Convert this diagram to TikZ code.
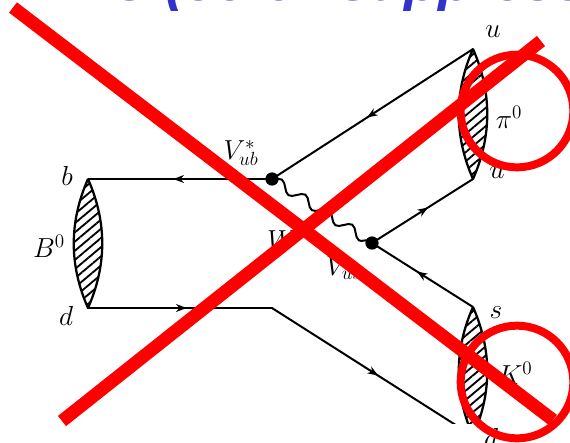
\documentclass[tikz,border=0pt]{standalone}
\usepackage{xcolor}
\usepackage{fontspec}
\setsansfont{Liberation Sans}
\usetikzlibrary{arrows.meta,decorations.markings,decorations.pathmorphing,patterns.meta}
\definecolor{slideBlue}{HTML}{3333CC}
\definecolor{crossRed}{HTML}{FF0000}

\begin{document}
\begin{tikzpicture}[
  x=0.0265cm, y=-0.0265cm,
  font=\huge,
  quark/.style={line width=1.5pt, line cap=round},
  fermion/.style={quark, postaction={decorate}, decoration={markings, mark=at position 0.5*\pgfdecoratedpathlength+5pt with {\arrow{Stealth[length=8pt,width=6pt]}}}},
  boson/.style={line width=1.5pt, decorate, decoration={snake, amplitude=3.6pt, segment length=21pt}},
  meson/.style={line width=1.7pt, line join=round, pattern={Lines[angle=40,distance=5.3pt,line width=1.4pt]}},
  vertex/.style={circle, fill=black, inner sep=0pt, minimum size=10pt},
  cross/.style={line width=9.8pt, crossRed},
  ring/.style={draw, circle, line width=6pt, crossRed, minimum size=85pt, inner sep=0pt},
  title/.style={font=\fontsize{42}{42}\selectfont\sffamily\bfseries\itshape, text=slideBlue, inner sep=0pt, anchor=base west}
]
\useasboundingbox (0,0) rectangle (570,442);
\clip (0,0) rectangle (570,442);

% Slide title, cut by the crop
\begin{scope}
  \clip (0,0) rectangle (570,10);
  \node[title] (heading) at (110,0) {C (color-suppressed)};
\end{scope}

% Quark ends
\coordinate (bL) at (88,179);
\coordinate (dL) at (88,308);
\coordinate (knee) at (272,308);
\coordinate (uT) at (473,49);
\coordinate (uB) at (473,179);
\coordinate (sT) at (473,307);
\coordinate (dB) at (473,436);

% Vertices
\node[vertex] (vUb) at (272,179) {};
\node[vertex] (vUs) at (372,243) {};

% Lines
\draw[fermion] (vUb.center) -- (bL);
\draw[fermion] (dL) -- (knee);
\draw[fermion] (uT) -- (vUb.center);
\draw[fermion] (vUs.center) -- (uB);
\draw[fermion] (sT) -- (vUs.center);
\draw[boson] (vUb.center) -- (vUs.center);

% Mesons
\draw[meson] (bL) .. controls +(-19,43) and +(-19,-43) .. (dL) .. controls +(19,-43) and +(19,43) .. (bL);
\draw[meson] (uT) .. controls +(-19,43) and +(-19,-43) .. (uB) .. controls +(19,-43) and +(19,43) .. (uT);
\begin{scope}
  \clip (0,0) rectangle (570,423);
  \draw[fermion] (knee) -- (dB);
  \draw[meson] (sT) .. controls +(-19,43) and +(-19,-43) .. (dB) .. controls +(19,-43) and +(19,43) .. (sT);
\end{scope}

% Labels
\node (lbB) at (67,176) {$b$};
\node (ldL) at (66,316) {$d$};
\node (lB) at (49,246) {$B^0$};
\node (lVub) at (241,153) {$V_{ub}^*$};
\node (lW) at (282,240) {$W$};
\node (lVus) at (344,268) {$V_{us}$};
\node (luT) at (493,32) {$u$};
\node (luB) at (497,173) {$u$};
\node (lpi) at (509,117) {$\pi^0$};
\node (ls) at (496,313) {$s$};
\node (lK) at (515,373) {$K^0$};
\node (ldB) at (491,438) {$d$};

% Red marks
\node[ring] (ringPi) at (517,111) {};
\node[ring] (ringK) at (517,382) {};
\coordinate (crossA) at (13,7.5);
\coordinate (crossB) at (553,420);
\coordinate (crossC) at (62,421);
\coordinate (crossD) at (541,41);
\draw[cross] (crossA) -- (crossB);
\draw[cross] (crossC) -- (crossD);
\end{tikzpicture}
\end{document}
